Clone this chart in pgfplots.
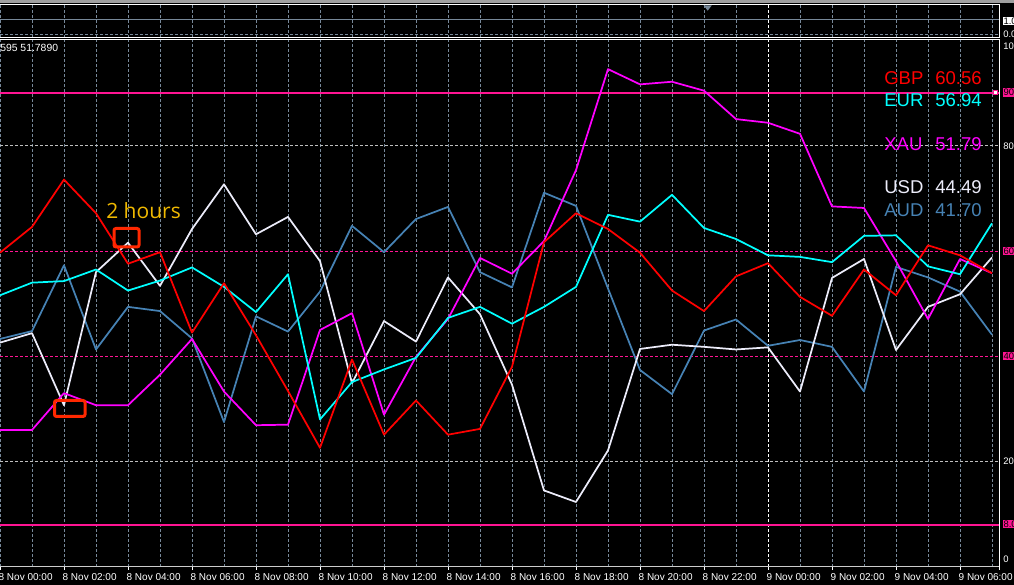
\documentclass[border=0pt]{standalone}
\usepackage{fontspec}
\setmainfont{Liberation Sans}
\newfontfamily\opensans{Open Sans}
\usepackage{pgfplots}
\pgfplotsset{compat=1.18}
\usepackage{pgfplotstable}

\definecolor{gbp}{RGB}{255,0,0}
\definecolor{eur}{RGB}{0,255,255}
\definecolor{xau}{RGB}{255,0,255}
\definecolor{usd}{RGB}{236,236,250}
\definecolor{aud}{RGB}{70,130,180}
\definecolor{lvl}{RGB}{255,20,147}
\definecolor{grd}{RGB}{119,136,153}
\definecolor{gold}{RGB}{240,185,0}
\definecolor{boxred}{RGB}{255,40,0}

\pgfplotstableread{
h GBP EUR XAU USD AUD
0 59.7 51.6 26.0 42.6 43.3
1 64.6 54.0 26.0 44.4 44.8
2 73.6 54.3 33.0 30.7 57.3
3 67.2 56.5 30.7 56.0 41.3
4 57.6 52.5 30.7 61.6 49.4
5 59.8 54.4 36.5 53.4 48.6
6 44.5 56.9 43.3 64.2 43.4
7 53.9 53.2 33.3 72.7 27.5
8 44.0 48.4 26.9 63.2 47.6
9 33.4 55.6 27.0 66.5 44.7
10 22.6 28.0 45.0 58.1 52.3
11 39.4 35.1 48.2 34.9 64.8
12 25.1 37.5 28.9 46.7 59.8
13 31.6 39.7 39.9 42.8 66.1
14 25.1 47.3 47.1 55.0 68.4
15 26.2 49.4 58.7 48.0 56.0
16 38.0 46.2 55.7 34.6 53.1
17 61.7 49.4 61.9 14.5 71.1
18 67.2 53.2 75.4 12.3 68.6
19 64.2 66.9 94.6 22.1 52.9
20 59.7 65.6 91.7 41.4 37.4
21 52.5 70.7 92.2 42.2 32.8
22 48.6 64.4 90.5 41.8 44.9
23 55.2 62.3 85.1 41.3 47.0
24 57.7 59.2 84.4 41.7 42.0
25 51.3 58.9 82.3 33.3 43.1
26 47.7 57.9 68.5 54.9 41.8
27 56.5 62.9 68.2 58.5 33.3
28 51.6 63.0 58.1 41.2 57.0
29 61.1 57.1 47.1 49.4 55.0
30 59.2 55.6 58.5 51.8 52.3
31 55.8 65.3 55.8 58.8 44.1
}\strength

\newcommand\tickfont{\fontsize{7.5pt}{8.5pt}\selectfont}
\newcommand\rfont{\fontsize{7.1pt}{8pt}\selectfont}
\newcommand\legfont{\fontsize{13.9pt}{16pt}\selectfont}

\begin{document}
\begin{tikzpicture}
\useasboundingbox (0,0) rectangle (760.5pt,438.75pt);
\clip (0,0) rectangle (760.5pt,438.75pt);
\fill[black] (0,0) rectangle (760.5pt,438.75pt);

% top indicator panel (pixel coordinates)
\begin{scope}[yshift=438.75pt,x=0.75pt,y=-0.75pt]
  \fill[gray!75] (0,0) rectangle (1014,3);
  \foreach \h in {0,...,31} {
    \draw[grd, line width=0.75pt, dash pattern=on 2.25pt off 1.5pt] ({32*\h},5) -- ({32*\h},37.3);
  }
  \draw[white, line width=0.75pt, dash pattern=on 2.25pt off 1.5pt] (768,5) -- (768,37.3);
  \draw[grd, line width=0.75pt] (0,19.3) -- (999.3,19.3);
  \draw[grd, line width=0.75pt, dash pattern=on 2.25pt off 1.5pt] (0,34.3) -- (999.3,34.3);
  \fill[grd] (703.7,5.5) -- (711.7,5.5) -- (707.7,10.7) -- cycle;
  \draw[white, line width=0.75pt] (0,5) -- (999.3,5) -- (999.3,37.3) -- (0,37.3);
  \node[fill=white, text=black, inner sep=0.75pt, anchor=west, font=\rfont] at (1002.3,21) {1.0};
  \node[text=white, inner sep=0pt, anchor=west, font=\rfont] at (1003,33.8) {0.0};
\end{scope}

\begin{axis}[
  at={(0pt,13.725pt)}, anchor=south west,
  scale only axis, width=750pt, height=395.55pt,
  xmin=0, xmax=31.25, ymin=0, ymax=100.27,
  axis line style={draw=none},
  ytick=\empty,
  xtick={0,2,...,22,26,28,30},
  xticklabels={8 Nov 00:00,8 Nov 02:00,8 Nov 04:00,8 Nov 06:00,8 Nov 08:00,8 Nov 10:00,8 Nov 12:00,8 Nov 14:00,8 Nov 16:00,8 Nov 18:00,8 Nov 20:00,8 Nov 22:00,9 Nov 02:00,9 Nov 04:00,9 Nov 06:00},
  minor xtick={1,3,...,31},
  xmajorgrids, xminorgrids,
  grid style={grd, line width=0.75pt, dash pattern=on 2.25pt off 1.5pt},
  minor grid style={grd, line width=0.75pt, dash pattern=on 2.25pt off 1.5pt},
  extra x ticks={24},
  extra x tick labels={9 Nov 00:00},
  extra x tick style={major grid style={white, line width=0.75pt, dash pattern=on 2.25pt off 1.5pt}},
  xtick pos=left,
  tick align=outside,
  major tick length=2.5pt, minor tick length=0pt,
  tick style={white, line width=0.75pt},
  xticklabel style={font=\tickfont, text=white, anchor=north west, inner sep=0pt, xshift=-1.2pt, yshift=-2.6pt},
  every axis plot/.append style={line join=round},
]
% level lines
\draw[white!75!black, line width=0.75pt, dash pattern=on 2.25pt off 1.5pt] (0,20) -- (31.25,20);
\draw[white!75!black, line width=0.75pt, dash pattern=on 2.25pt off 1.5pt] (0,80) -- (31.25,80);
\draw[lvl, line width=0.75pt, dash pattern=on 2.25pt off 1.5pt] (0,40) -- (31.25,40);
\draw[lvl, line width=0.75pt, dash pattern=on 2.25pt off 1.5pt] (0,60) -- (31.25,60);
\draw[lvl, line width=1.5pt] (0,90) -- (31.25,90);
\draw[lvl, line width=1.5pt] (0,8) -- (31.25,8);

\addplot[aud, line width=1.3pt] table[x=h, y=AUD] {\strength};
\addplot[usd, line width=1.3pt] table[x=h, y=USD] {\strength};
\addplot[xau, line width=1.3pt] table[x=h, y=XAU] {\strength};
\addplot[eur, line width=1.3pt] table[x=h, y=EUR] {\strength};
\addplot[gbp, line width=1.3pt] table[x=h, y=GBP] {\strength};
\end{axis}

% frame, labels and annotations (pixel coordinates)
\begin{scope}[yshift=438.75pt,x=0.75pt,y=-0.75pt]
  \draw[white, line width=0.75pt] (0,39.3) -- (999.3,39.3);
  \draw[white, line width=0.75pt] (999.3,39.3) -- (999.3,570);
  \draw[white!80!black, line width=0.75pt] (0,566.7) -- (999.3,566.7);
  \draw[lvl, fill=white, line width=0.75pt] (993.5,90.7) rectangle (997.5,94.7);

  \node[text=white, inner sep=0pt, anchor=base west, font=\fontsize{7.8pt}{9pt}\selectfont] at (0,52) {595 51.7890};

  \node[text=white, inner sep=0pt, anchor=west, font=\rfont] at (1003,46.5) {100};
  \node[fill=lvl, text=black, inner sep=0.75pt, anchor=west, font=\rfont] at (1002.3,92.7) {90.0};
  \node[text=white, inner sep=0pt, anchor=west, font=\rfont] at (1003,146.5) {80};
  \node[fill=lvl, text=black, inner sep=0.75pt, anchor=west, font=\rfont] at (1002.3,251) {60.0};
  \node[fill=lvl, text=black, inner sep=0.75pt, anchor=west, font=\rfont] at (1002.3,356) {40.0};
  \node[text=white, inner sep=0pt, anchor=west, font=\rfont] at (1003,461.7) {20};
  \node[fill=lvl, text=black, inner sep=0.75pt, anchor=west, font=\rfont] at (1002.3,524) {8.0};
  \node[text=white, inner sep=0pt, anchor=west, font=\rfont] at (1003,559.7) {0};

  \node[text=gbp, inner sep=0pt, anchor=base west, font=\legfont] at (884,85) {GBP};
  \node[text=gbp, inner sep=0pt, anchor=base east, font=\legfont] at (982,85) {60.56};
  \node[text=eur, inner sep=0pt, anchor=base west, font=\legfont] at (884,107) {EUR};
  \node[text=eur, inner sep=0pt, anchor=base east, font=\legfont] at (982,107) {56.94};
  \node[text=xau, inner sep=0pt, anchor=base west, font=\legfont] at (884,151) {XAU};
  \node[text=xau, inner sep=0pt, anchor=base east, font=\legfont] at (982,151) {51.79};
  \node[text=usd, inner sep=0pt, anchor=base west, font=\legfont] at (884,194) {USD};
  \node[text=usd, inner sep=0pt, anchor=base east, font=\legfont] at (982,194) {44.49};
  \node[text=aud, inner sep=0pt, anchor=base west, font=\legfont] at (884,217) {AUD};
  \node[text=aud, inner sep=0pt, anchor=base east, font=\legfont] at (982,217) {41.70};

  \node[text=gold, inner sep=0pt, anchor=base west, font=\opensans\fontsize{15.75pt}{18pt}\selectfont] at (106,219) {2 hours};
  \draw[boxred, line width=2.25pt, rounded corners=1.5pt] (114,228.5) rectangle (139,247);
  \draw[boxred, line width=2.25pt, rounded corners=1.5pt] (54.5,400.5) rectangle (85,416.5);
\end{scope}
\end{tikzpicture}
\end{document}
